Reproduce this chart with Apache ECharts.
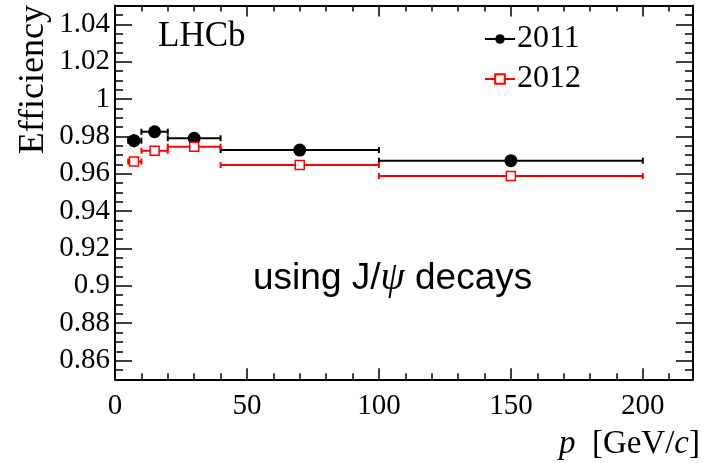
<!DOCTYPE html>
<html>
<head>
<meta charset="utf-8">
<script src="https://cdn.jsdelivr.net/npm/echarts@6/dist/echarts.min.js"></script>
<style>
  html, body { margin: 0; padding: 0; background: #fff; }
  #chart { width: 705px; height: 463px; }
</style>
</head>
<body>
<div id="chart"></div>
<script>
// Momentum bins (GeV/c): edges and plotted centre
const binLow  = [5, 10, 20, 40, 100];
const binHigh = [10, 20, 40, 100, 200];
const pCentre = [7.2, 15, 30, 70, 150];

// Efficiency per bin and its uncertainty
const eff2011 = [0.9777, 0.9825, 0.9790, 0.9727, 0.9670];
const err2011 = [0.0035, 0.0008, 0.0008, 0.0005, 0.0005];
const eff2012 = [0.9665, 0.9723, 0.9745, 0.9647, 0.9588];
const err2012 = [0.0012, 0.0006, 0.0005, 0.0004, 0.0004];

// Axis ranges and ticks
const xMin = 0, xMax = 219;
const yMin = 0.85, yMax = 1.05;
const xMajor = [0, 50, 100, 150, 200];
const xMinor = [10, 20, 30, 40, 60, 70, 80, 90, 110, 120, 130, 140, 160, 170, 180, 190, 210];
const yMajor = [0.86, 0.88, 0.90, 0.92, 0.94, 0.96, 0.98, 1.00, 1.02, 1.04];
const yMinor = [];
for (let k = 171; k < 210; k++) yMinor.push(k / 200);

const yLabels = ['0.86', '0.88', '0.9', '0.92', '0.94', '0.96', '0.98', '1', '1.02', '1.04'];

const SERIF = '"Liberation Serif", "Times New Roman", serif';
const SANS = '"Liberation Sans", Arial, Helvetica, sans-serif';

function rows(eff, err) {
  return pCentre.map((p, i) => [p, eff[i], binLow[i], binHigh[i], eff[i] - err[i], eff[i] + err[i]]);
}

function errorBars(color) {
  return function (params, api) {
    const x = api.value(0), y = api.value(1);
    const a = api.coord([api.value(2), y]);
    const b = api.coord([api.value(3), y]);
    const lo = api.coord([x, api.value(4)]);
    const hi = api.coord([x, api.value(5)]);
    const cap = 3;
    const style = { stroke: color, lineWidth: 2 };
    return {
      type: 'group',
      children: [
        { type: 'line', shape: { x1: a[0], y1: a[1], x2: b[0], y2: b[1] }, style: style },
        { type: 'line', shape: { x1: a[0], y1: a[1] - cap, x2: a[0], y2: a[1] + cap }, style: style },
        { type: 'line', shape: { x1: b[0], y1: b[1] - cap, x2: b[0], y2: b[1] + cap }, style: style },
        { type: 'line', shape: { x1: lo[0], y1: lo[1], x2: hi[0], y2: hi[1] }, style: style }
      ]
    };
  };
}

function xAxisDef(pos, values, len, withLine, withLabels) {
  return {
    type: 'value', position: pos, min: xMin, max: xMax,
    axisLine: { show: withLine, onZero: false, lineStyle: { color: '#000', width: 2 } },
    axisTick: { show: true, inside: true, length: len, customValues: values, lineStyle: { color: '#000', width: 1.5 } },
    axisLabel: withLabels ? {
      show: true, customValues: xMajor, margin: 13,
      color: '#000', fontFamily: SERIF, fontSize: 29
    } : { show: false },
    splitLine: { show: false }
  };
}

function yAxisDef(pos, values, len, withLine, withLabels) {
  return {
    type: 'value', position: pos, min: yMin, max: yMax,
    axisLine: { show: withLine, onZero: false, lineStyle: { color: '#000', width: 2 } },
    axisTick: { show: true, inside: true, length: len, customValues: values, lineStyle: { color: '#000', width: 1.5 } },
    axisLabel: withLabels ? {
      show: true, customValues: yMajor, margin: 5,
      color: '#000', fontFamily: SERIF, fontSize: 29,
      formatter: function (v) {
        const i = yMajor.findIndex(t => Math.abs(t - v) < 1e-6);
        return i >= 0 ? yLabels[i] : '';
      }
    } : { show: false },
    splitLine: { show: false }
  };
}

const chart = echarts.init(document.getElementById('chart'), null, { renderer: 'canvas' });

chart.setOption({
  animation: false,
  backgroundColor: '#fff',
  grid: { left: 115, right: 12, top: 5.6, bottom: 83.7, containLabel: false },
  xAxis: [
    xAxisDef('bottom', xMajor, 11, true, true),
    xAxisDef('bottom', xMinor, 6, false, false),
    xAxisDef('top', xMajor, 11, true, false),
    xAxisDef('top', xMinor, 6, false, false)
  ],
  yAxis: [
    yAxisDef('left', yMajor, 17, true, true),
    yAxisDef('left', yMinor, 8, false, false),
    yAxisDef('right', yMajor, 17, true, false),
    yAxisDef('right', yMinor, 8, false, false)
  ],
  legend: {
    orient: 'vertical', left: 479, top: 18,
    itemWidth: 30, itemHeight: 12, itemGap: 8,
    textStyle: { color: '#000', fontFamily: SERIF, fontSize: 32, padding: [0, 0, 0, -3] },
    data: ['2011', '2012'],
    selectedMode: false
  },
  graphic: [
    { type: 'text', left: 158, top: 19, style: { text: 'LHCb', font: '35px ' + SERIF, fill: '#000' } },
    {
      type: 'text', left: 253, top: 259,
      style: {
        text: 'using J/{psi|ψ} decays', font: '37px ' + SANS, fill: '#000',
        rich: { psi: { fontFamily: SERIF, fontStyle: 'italic', fontSize: 39 } }
      }
    },
    {
      type: 'text', x: 34, y: 5, rotation: Math.PI / 2,
      style: { text: 'Efficiency', font: '36px ' + SERIF, fill: '#000', align: 'right', verticalAlign: 'middle' }
    },
    {
      type: 'text', x: 700, y: 461,
      style: {
        text: '{i|p}  [GeV/{i|c}]', font: '33px ' + SERIF, fill: '#000', align: 'right', verticalAlign: 'bottom',
        rich: { i: { fontStyle: 'italic', fontFamily: SERIF, fontSize: 33 } }
      }
    }
  ],
  series: [
    { name: '2011', type: 'line', data: [], symbol: 'circle', symbolSize: 10,
      itemStyle: { color: '#000' }, lineStyle: { color: '#000', width: 2 } },
    { name: '2012', type: 'line', data: [], symbol: 'emptyRect', symbolSize: 9,
      itemStyle: { color: '#ff0000' }, lineStyle: { color: '#ff0000', width: 2 } },
    { name: '2011', type: 'custom', renderItem: errorBars('#000'), data: rows(eff2011, err2011),
      encode: { x: [0, 2, 3], y: [1, 4, 5] }, z: 2 },
    { name: '2012', type: 'custom', renderItem: errorBars('#ff0000'), data: rows(eff2012, err2012),
      encode: { x: [0, 2, 3], y: [1, 4, 5] }, z: 2 },
    { name: '2011', type: 'scatter', data: pCentre.map((p, i) => [p, eff2011[i]]),
      symbol: 'circle', symbolSize: 13, itemStyle: { color: '#000', opacity: 1 }, z: 4 },
    { name: '2012', type: 'scatter', data: pCentre.map((p, i) => [p, eff2012[i]]),
      symbol: 'rect', symbolSize: 9, itemStyle: { color: '#fff', borderColor: '#ff0000', borderWidth: 1.5, opacity: 1 }, z: 4 }
  ]
});
</script>
</body>
</html>
